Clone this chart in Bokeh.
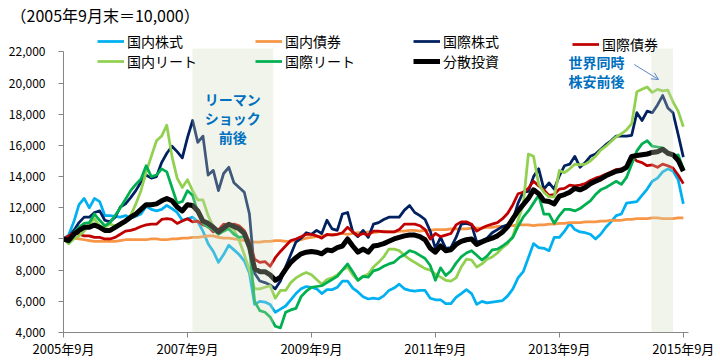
from bokeh.plotting import figure
from bokeh.models import (Legend, LegendItem, BoxAnnotation, Label, Arrow, OpenHead,
                          FixedTicker, NumeralTickFormatter, ColumnDataSource)
from bokeh.embed import file_html
from bokeh.resources import INLINE

# ---------------- data ----------------
months = list(range(121))  # 0 = 2005年9月末 ... 120 = 2015年9月末
x_tick_pos = [0, 24, 48, 72, 96, 120]
x_tick_labels = ["2005年9月", "2007年9月", "2009年9月", "2011年9月", "2013年9月", "2015年9月"]
y_ticks = [4000, 6000, 8000, 10000, 12000, 14000, 16000, 18000, 20000, 22000]

kokunai_kabu = [
    10000, 10250, 11100, 12200, 12600, 12000, 12600, 12400, 11500, 11500,
    11450, 11400, 11500, 11350, 11450, 11600, 12100, 11900, 11800, 11900,
    12150, 11950, 11700, 11200, 11300, 11400, 11100, 10500, 9700, 9200,
    8500, 9000, 9600, 9300, 9000, 8600, 7800, 5800, 6000, 5950,
    5800, 5300, 5500, 5700, 6100, 6500, 6800, 6950, 6900, 6800,
    6500, 6750, 6750, 6900, 7300, 7300, 6850, 6600, 6300, 6150,
    6200, 6150, 6350, 6700, 6850, 7100, 6800, 6700, 6650, 6700,
    6700, 6200, 6100, 6100, 5850, 5850, 6250, 6500, 6750, 6500,
    5800, 6000, 5900, 5950, 6000, 6050, 6350, 6800, 7500, 7900,
    8800, 9700, 9450, 9400, 9250, 10100, 10100, 10500, 11000, 10600,
    10450, 10400, 10300, 10000, 10300, 10750, 11100, 11500, 11600, 12300,
    12350, 12400, 12800, 13200, 13700, 13900, 14300, 14500, 14350, 13800, 12250]

kokunai_saiken = [
    10000, 10050, 10050, 10000, 9950, 9900, 9850, 9850, 9850, 9850,
    9850, 9900, 9950, 9950, 9950, 9950, 9950, 10000, 10000, 9950,
    9950, 10000, 10000, 10050, 10050, 10100, 10100, 10150, 10200, 10200,
    10100, 10050, 10050, 10000, 9950, 9900, 9850, 9800, 9800, 9850,
    9850, 9900, 9900, 9850, 9850, 9900, 9950, 10050, 10100, 10150,
    10200, 10250, 10300, 10300, 10350, 10300, 10350, 10400, 10400, 10450,
    10400, 10450, 10500, 10450, 10450, 10500, 10500, 10550, 10550, 10500,
    10550, 10550, 10600, 10600, 10600, 10650, 10650, 10650, 10650, 10700,
    10700, 10700, 10750, 10750, 10800, 10800, 10850, 10850, 10900, 10900,
    10900, 10850, 10900, 10900, 10950, 10950, 11000, 11000, 11050, 11050,
    11050, 11100, 11100, 11100, 11150, 11150, 11200, 11200, 11200, 11250,
    11250, 11300, 11300, 11300, 11350, 11350, 11300, 11300, 11300, 11350, 11350]

kokusai_kabu = [
    10000, 10100, 10550, 11050, 11400, 11400, 11700, 11800, 11200, 11100,
    11400, 12050, 12250, 12650, 13100, 13650, 14100, 13900, 14000, 14900,
    15500, 15950, 15600, 15200, 16500, 17600, 16200, 16600, 14100, 14400,
    13100, 14200, 14600, 13600, 13300, 13000, 11600, 7800, 7300, 7200,
    7050, 6800, 7300, 8200, 9000, 9800, 10050, 10400, 10300, 10550,
    10350, 11200, 10650, 10550, 11600, 11700, 10450, 10150, 10550, 10100,
    10950, 11050, 11250, 11400, 11400, 11400, 11850, 12150, 11700, 11500,
    11250, 10500, 9400, 10100, 9400, 9450, 10100, 10950, 11000, 10900,
    9800, 9900, 10050, 10400, 10600, 10800, 10900, 11200, 12300, 13000,
    13050, 14000, 14500, 13200, 13600, 13200, 14050, 14700, 14800, 15300,
    14600, 14900, 15300, 15450, 15750, 16050, 16300, 16600, 16600, 16600,
    16650, 18100, 17600, 18200, 18100, 18600, 19200, 18400, 18100, 16700, 15250]

kokusai_saiken = [
    10000, 10200, 10400, 10300, 10200, 10200, 10100, 10100, 10000, 10000,
    10100, 10300, 10500, 10550, 10650, 10800, 10900, 10950, 10950, 11250,
    11300, 11250, 11000, 11150, 11300, 11100, 11150, 10900, 10800, 10450,
    10600, 10950, 10900, 10950, 10850, 10550, 9800, 8700, 8500, 8550,
    8250, 8800, 9200, 9550, 9900, 10000, 10150, 10300, 10300, 10200,
    10050, 10300, 10250, 10300, 10400, 10750, 10450, 10200, 10350, 10250,
    10500, 10500, 10450, 10450, 10450, 10600, 10950, 10950, 10950, 10850,
    10600, 10000, 10350, 10150, 10250, 10350, 10900, 11100, 11100, 10950,
    10500, 10700, 10850, 10950, 11050, 11300, 11650, 12200, 12900, 13000,
    13250, 13700, 13400, 13150, 12800, 12850, 13200, 13250, 13450, 13400,
    13450, 13550, 13750, 13900, 14000, 14150, 14300, 14450, 14500, 14550,
    15300, 15000, 14900, 14700, 14750, 14600, 14800, 14700, 14550, 14100, 13550]

kokunai_reit = [
    10000, 9700, 10000, 10200, 10500, 10950, 11300, 10850, 10750, 10950,
    10850, 10850, 11200, 11500, 12250, 13100, 14300, 15300, 16300, 16600,
    17300, 15300, 13900, 13300, 13800, 13100, 12500, 12500, 11500, 10800,
    10500, 10500, 10900, 10600, 9900, 9000, 8000, 6800, 6800, 6900,
    7000, 6200, 6700, 6700, 7200, 7500, 7700, 7850, 7700, 7400,
    7100, 7400, 7500, 7700, 8000, 8200, 7700, 7350, 7600, 7750,
    8200, 8500, 8850, 9350, 9350, 9250, 8950, 8700, 8500, 8300,
    8100, 8000, 7750, 7550, 7350, 7300, 7500, 8200, 8700, 8650,
    8200, 8400, 8700, 8850, 9100, 9450, 9700, 10200, 11200, 12200,
    15450, 15300, 13500, 13000, 12700, 12700, 14400, 14250, 14500, 14800,
    14750, 14800, 15000, 15300, 15700, 15950, 16250, 16550, 16750, 17000,
    17400, 19450, 19600, 19750, 19400, 19600, 19500, 19550, 18800, 18200, 17200]

kokusai_reit = [
    10000, 9800, 10400, 10750, 11000, 11050, 11600, 11200, 10850, 11050,
    11500, 12000, 12550, 13100, 13500, 13850, 14700, 14000, 14100, 14500,
    14300, 13300, 12300, 12400, 13100, 12800, 11700, 11000, 10750, 10600,
    10300, 10500, 10650, 10300, 10100, 10150, 9400, 6000, 5400, 5300,
    5000, 4400, 4300, 5300, 5450, 5550, 6300, 6650, 6900, 6950,
    7000, 7200, 7400, 7600, 8000, 8400, 7900, 7350, 7600, 7550,
    7950, 8050, 8250, 8400, 8500, 8800, 9000, 9250, 9150, 8950,
    8750, 8300, 7350, 8150, 7650, 7950, 8450, 8850, 9100, 9250,
    8950, 8650, 8900, 9300, 9350, 9550, 9800, 10100, 10800, 11400,
    11800, 12300, 12800, 11600, 11600, 11000, 11500, 11900, 11900, 11800,
    11950, 12200, 12450, 12850, 13150, 13300, 13500, 13700, 13500, 13950,
    14800, 15650, 16100, 16300, 15950, 15900, 15850, 15600, 15300, 15400, 14500]

bunsan = [
    10000, 9900, 10300, 10550, 10750, 10750, 10900, 10750, 10550, 10550,
    10750, 10950, 11150, 11400, 11600, 11900, 12200, 12200, 12250, 12450,
    12600, 12450, 12050, 11800, 12200, 12150, 11800, 11150, 11000, 10750,
    10450, 10700, 10950, 10800, 10650, 10350, 9500, 8100, 7900, 7900,
    7700, 7350, 7550, 8050, 8500, 8800, 9050, 9150, 9200, 9150,
    9050, 9300, 9250, 9450, 9550, 10000, 9550, 9150, 9350, 9150,
    9550, 9600, 9700, 9850, 10000, 10100, 10200, 10250, 10250, 10150,
    9950, 9400, 9150, 9550, 9250, 9300, 9650, 9850, 9950, 10000,
    9650, 9800, 9950, 10050, 10200, 10450, 10800, 11300, 11800, 12200,
    12600, 13150, 12900, 12450, 12400, 12250, 12750, 12850, 13000, 13250,
    13150, 13300, 13550, 13700, 13850, 14050, 14200, 14350, 14400, 14600,
    15300, 15350, 15400, 15450, 15550, 15600, 15750, 15500, 15400, 15050, 14350]

series_names = ["国内株式", "国内債券", "国際株式", "国際債券", "国内リート", "国際リート", "分散投資"]
series_values = [kokunai_kabu, kokunai_saiken, kokusai_kabu, kokusai_saiken,
                 kokunai_reit, kokusai_reit, bunsan]
series_colors = ["#00b0f0", "#f79646", "#002060", "#c00000", "#92d050", "#00b050", "#000000"]
series_widths = [2.75, 2.75, 2.75, 2.75, 2.75, 2.75, 5]

title_text = "（2005年9月末＝10,000）"
lehman_text = ["リーマン", "ショック", "前後"]
sekai_text = ["世界同時", "株安前後"]

FONT = "Noto Sans CJK JP"
AXIS_COLOR = "#868686"
Y_TOP = 23630

# ---------------- figure ----------------
p = figure(width=720, height=360, output_backend="svg", toolbar_location=None,
           x_range=(0, 121), y_range=(4000, Y_TOP),
           min_border_left=63, min_border_right=32, min_border_top=0, min_border_bottom=28)
p.xgrid.visible = False
p.ygrid.visible = False
p.outline_line_color = None
p.background_fill_color = "white"
p.border_fill_color = "white"

p.title.text = title_text
p.title.text_font = FONT
p.title.text_font_size = "16px"
p.title.text_font_style = "normal"
p.title.text_color = "#000000"
p.title.align = "left"
p.title.offset = -53
p.title.standoff = 0

src = ColumnDataSource(dict(m=months, **{f"s{i}": v for i, v in enumerate(series_values)}))

renderers = []
for i, (name, col, w) in enumerate(zip(series_names, series_colors, series_widths)):
    r = p.line("m", f"s{i}", source=src, line_color=col, line_width=w, line_join="round")
    renderers.append(r)

# shaded periods (drawn above lines, semi-transparent)
for left, right in [(24.95, 40.6), (113.8, 118.0)]:
    p.add_layout(BoxAnnotation(left=left, right=right, bottom=4000, top=22220,
                               fill_color="#cfdabb", fill_alpha=0.3, line_color=None))

# axes
p.xaxis.ticker = FixedTicker(ticks=x_tick_pos)
p.xaxis.major_label_overrides = {t: l for t, l in zip(x_tick_pos, x_tick_labels)}
p.yaxis.ticker = FixedTicker(ticks=y_ticks)
p.yaxis.formatter = NumeralTickFormatter(format="0,0")
p.yaxis.bounds = (4000, 22000)
for ax in (p.xaxis[0], p.yaxis[0]):
    ax.axis_label = None
    ax.axis_line_color = AXIS_COLOR
    ax.major_tick_line_color = AXIS_COLOR
    ax.minor_tick_line_color = None
    ax.major_tick_in = 0
    ax.major_tick_out = 5
    ax.major_label_text_font = FONT
    ax.major_label_text_color = "#000000"
p.xaxis.major_label_text_font_size = "13px"
p.yaxis.major_label_text_font_size = "12px"
p.xaxis.major_label_standoff = 1
p.yaxis.major_label_standoff = 13

# legend (4 columns, placed from the frame's bottom-left corner)
cols = [[0, 4], [1, 5], [2, 6], [3]]
col_x = [34, 192, 350, 509]
for c, xpos in zip(cols, col_x):
    items = [LegendItem(label=series_names[i], renderers=[renderers[i]]) for i in c]
    lg = Legend(items=items, location=(xpos, 261 if len(c) == 2 else 278), orientation="vertical",
                glyph_width=27, glyph_height=14, label_height=14, label_standoff=3,
                spacing=-6, padding=0, margin=0, border_line_alpha=0,
                background_fill_alpha=0, label_text_font=FONT,
                label_text_font_size="14px", label_text_color="#000000")
    p.add_layout(lg)

# annotations
for txt, yv in zip(lehman_text, [18970, 17760, 16545]):
    p.add_layout(Label(x=32.75, y=yv, text=txt, text_font=FONT, text_font_size="14px",
                       text_font_style="bold", text_color="#0070c0",
                       text_align="center", text_baseline="middle"))
for txt, yv in zip(sekai_text, [21340, 20120]):
    p.add_layout(Label(x=103.2, y=yv, text=txt, text_font=FONT, text_font_size="14px",
                       text_font_style="bold", text_color="#0070c0",
                       text_align="center", text_baseline="middle"))
p.add_layout(Arrow(x_start=110.5, y_start=21190, x_end=115.2, y_end=20230,
                   line_color="#5b87c5", line_width=1,
                   end=OpenHead(size=7, line_color="#5b87c5", line_width=1)))

open("out.html", "w").write(file_html(p, INLINE))
